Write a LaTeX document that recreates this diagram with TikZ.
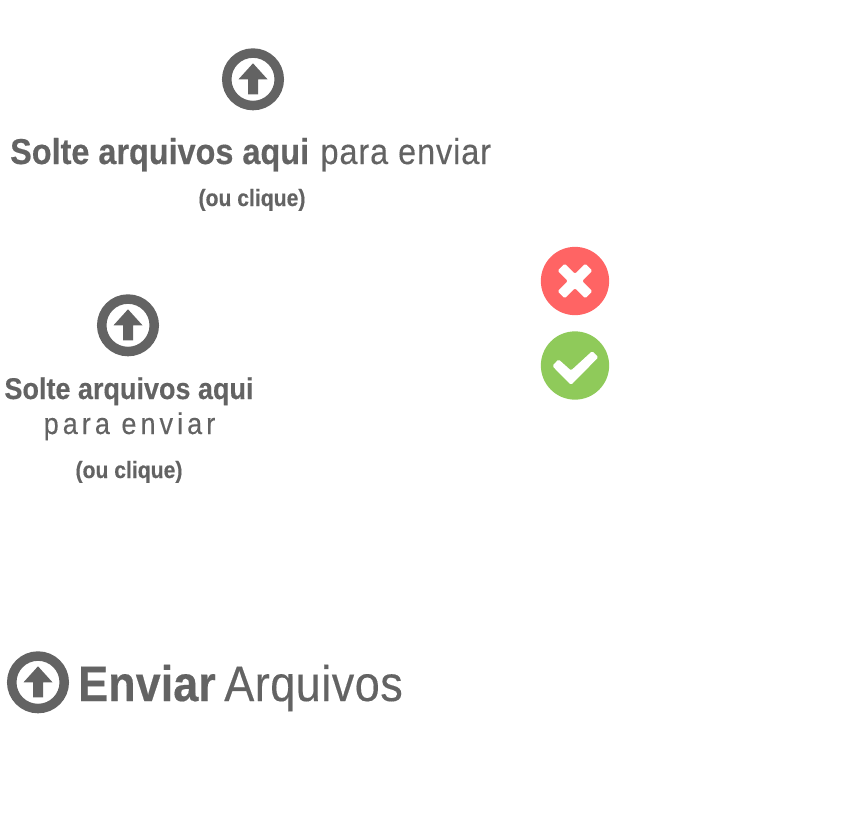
\documentclass[tikz,border=0pt]{standalone}
\usepackage{fontspec}
\setmainfont{Liberation Sans}
\definecolor{ink}{HTML}{636363}
\definecolor{bad}{HTML}{FF6464}
\definecolor{good}{HTML}{8FCA5A}
\newfontfamily\cond{Liberation Sans}[FakeStretch=0.9,BoldFeatures={FakeBold=0.35}]
\newfontfamily\condr{Liberation Sans}[FakeStretch=0.9,LetterSpace=2.6,FakeBold=0.25]
\newfontfamily\condq{Liberation Sans}[FakeStretch=0.9,LetterSpace=1,FakeBold=0.25]
\newfontfamily\condw{Liberation Sans}[FakeStretch=0.9,LetterSpace=13.5,FakeBold=0.25]
\tikzset{
  px/.style={x=1pt,y=-1pt},
  label/.style={text=ink,inner sep=0pt,font=\cond},
}
\newcommand{\upicon}[3]{%
  \begin{scope}[shift={(#1,#2)}]
    \node[circle,draw=ink,line width=9.5pt,minimum size=52.5pt,inner sep=0pt,outer sep=0pt] (#3) at (0,0) {};
    \fill[ink] (0,-16) -- (14.5,0) -- (5,0) -- (5,15) -- (-5,15) -- (-5,0) -- (-14.5,0) -- cycle;
  \end{scope}}
\begin{document}
\begin{tikzpicture}[px]
\useasboundingbox (0,0) rectangle (856,812);
\upicon{253}{79.3}{ia}
\upicon{128}{325.3}{ib}
\upicon{38}{682.3}{ic}
\node[label,anchor=base west,font=\cond\fontsize{36}{40}\selectfont] (t1) at (10,164) {\textbf{Solte arquivos aqui}\hspace{11.5pt}{\condr para enviar}};
\node[label,anchor=base,font=\cond\bfseries\fontsize{23.5}{28}\selectfont] (t2) at (252,206) {(ou clique)};
\node[label,anchor=base,font=\cond\bfseries\fontsize{30}{34}\selectfont] (t3) at (129,399) {Solte arquivos aqui};
\node[label,anchor=base,font=\condw\fontsize{30}{34}\selectfont] (t4) at (129.5,434) {para enviar};
\node[label,anchor=base,font=\cond\bfseries\fontsize{23.5}{28}\selectfont] (t5) at (129,478) {(ou clique)};
\node[label,anchor=base west,font=\cond\fontsize{50}{54}\selectfont] (t6) at (78,701) {\textbf{Enviar}\hspace{8.5pt}{\condq Arquivos}};
\node[circle,fill=bad,minimum size=68.3pt,inner sep=0pt] (no) at (575,281) {};
\begin{scope}[shift={(575,281)},rotate=45]
\fill[white,rounded corners=1.5pt] (-5,-19.5) -- (5,-19.5) -- (5,-5) -- (19.5,-5) -- (19.5,5) -- (5,5) -- (5,19.5) -- (-5,19.5) -- (-5,5) -- (-19.5,5) -- (-19.5,-5) -- (-5,-5) -- cycle;
\end{scope}
\node[circle,fill=good,minimum size=68.3pt,inner sep=0pt] (yes) at (575,365.5) {};
\fill[white,rounded corners=1.5pt] (552.3,366) -- (558.5,359.3) -- (571,370.5) -- (592.3,351) -- (598.3,357.3) -- (571,385) -- cycle;
\end{tikzpicture}
\end{document}
